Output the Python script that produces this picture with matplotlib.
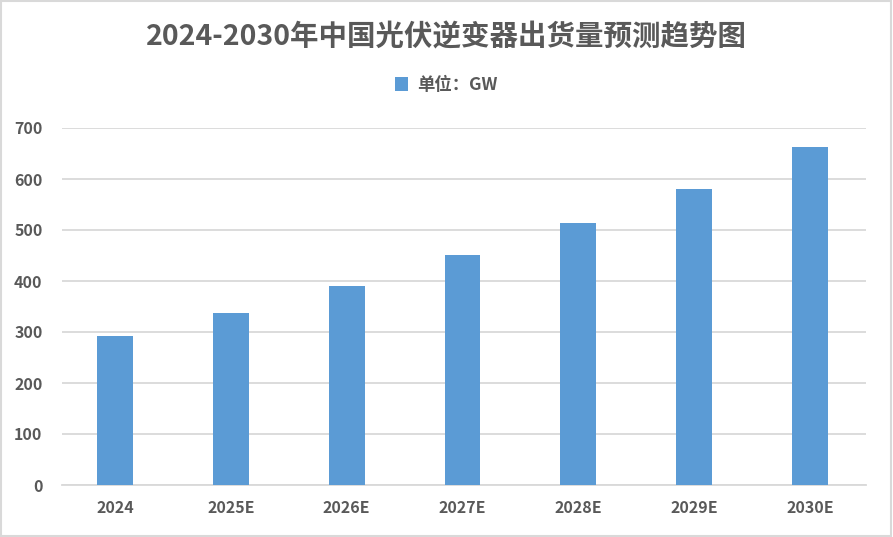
import matplotlib
matplotlib.use("Agg")
import matplotlib.pyplot as plt
from matplotlib.patches import Rectangle

plt.rcParams['font.family'] = ['Noto Sans CJK SC', 'DejaVu Sans']

categories = ["2024", "2025E", "2026E", "2027E", "2028E", "2029E", "2030E"]
values = [292, 337, 390, 451, 514, 580, 663]
yticks = [0, 100, 200, 300, 400, 500, 600, 700]
title = "2024-2030年中国光伏逆变器出货量预测趋势图"
legend_label = "单位：GW"

bar_color = "#5b9bd5"
text_color = "#595959"
grid_color = "#d9d9d9"

fig = plt.figure(figsize=(8.93, 5.37), dpi=100)
ax = fig.add_axes([62/893, 1-485/537, (866-62)/893, (485-128)/537])

x = list(range(len(categories)))
ax.bar(x, values, width=0.31, color=bar_color, zorder=3, label=legend_label)
ax.set_xlim(-0.4576, 6.483)
ax.set_ylim(0, 700)
ax.set_yticks(yticks)
ax.set_xticks(x)
ax.set_xticklabels(categories)
ax.yaxis.grid(True, color=grid_color, linewidth=1.3, zorder=0)
ax.set_axisbelow(True)
for s in ["top", "right", "left"]:
    ax.spines[s].set_visible(False)
ax.spines["bottom"].set_color(grid_color)
ax.spines["bottom"].set_linewidth(1.3)
ax.tick_params(axis="both", length=0, labelsize=11.5, colors=text_color)
for lbl in ax.get_xticklabels() + ax.get_yticklabels():
    lbl.set_fontweight("bold")
ax.tick_params(axis="x", pad=11)
ax.tick_params(axis="y", pad=14)

fig.text(0.5, 1-37/537, title, ha="center", va="center", fontsize=20.5,
         fontweight="bold", color=text_color)
leg = fig.legend(loc="center", bbox_to_anchor=(0.5, 1-85/537), frameon=False,
                 handlelength=0.75, handleheight=0.9, handletextpad=0.5,
                 prop={"size": 12.5, "weight": "bold"})
for t in leg.get_texts():
    t.set_color(text_color)

fig.patches.append(Rectangle((0.001, 0.001), 0.997, 0.997, transform=fig.transFigure,
                             fill=False, edgecolor="#d9d9d9", linewidth=1.5))

fig.savefig("out.png", dpi=100)
